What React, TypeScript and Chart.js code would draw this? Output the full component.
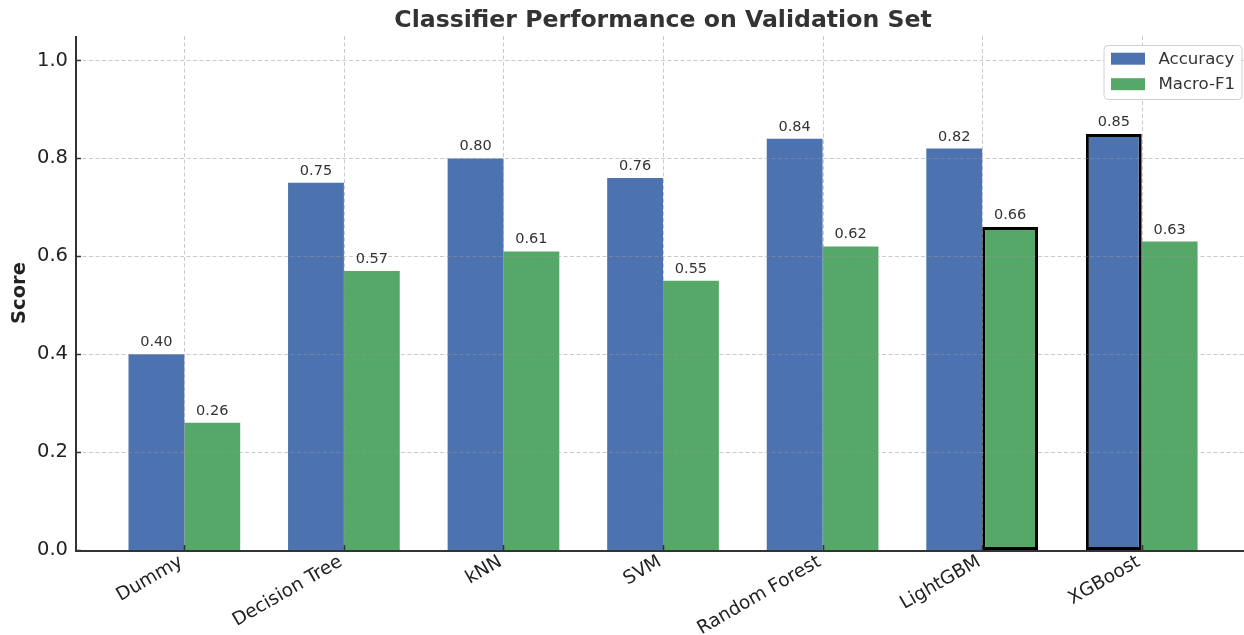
import React, { useEffect, useRef } from "react";
import { Chart, registerables } from "chart.js";

Chart.register(...registerables);

const title = "Classifier Performance on Validation Set";
const yTitle = "Score";
const categories = ["Dummy", "Decision Tree", "kNN", "SVM", "Random Forest", "LightGBM", "XGBoost"];
const seriesNames = ["Accuracy", "Macro-F1"];
const accuracy = [0.4, 0.75, 0.8, 0.76, 0.84, 0.82, 0.85];
const macroF1 = [0.26, 0.57, 0.61, 0.55, 0.62, 0.66, 0.63];
const yTicks = [0, 0.2, 0.4, 0.6, 0.8, 1.0];
const highlightAccuracy = "XGBoost";
const highlightF1 = "LightGBM";

const FONT = "'DejaVu Sans', sans-serif";
const BLUE = "#4C72B0";
const GREEN = "#55A868";

const overlayPlugin = {
  id: "overlay",
  afterDatasetsDraw(chart: any) {
    const { ctx, chartArea: ca, scales } = chart;
    const x = scales.x;
    const y = scales.y;
    ctx.save();

    // grid lines (drawn over bars)
    ctx.strokeStyle = "rgba(150,150,150,0.5)";
    ctx.lineWidth = 1;
    ctx.setLineDash([4, 2.5]);
    yTicks.forEach((v) => {
      const py = Math.round(y.getPixelForValue(v)) + 0.5;
      ctx.beginPath();
      ctx.moveTo(ca.left, py);
      ctx.lineTo(ca.right, py);
      ctx.stroke();
    });
    categories.forEach((_, i) => {
      const px = Math.round(x.getPixelForValue(i)) + 0.5;
      ctx.beginPath();
      ctx.moveTo(px, ca.top);
      ctx.lineTo(px, ca.bottom);
      ctx.stroke();
    });
    ctx.setLineDash([]);

    // spines
    ctx.strokeStyle = "#333";
    ctx.lineWidth = 2;
    ctx.beginPath();
    ctx.moveTo(ca.left, ca.top);
    ctx.lineTo(ca.left, ca.bottom + 1);
    ctx.lineTo(ca.right, ca.bottom + 1);
    ctx.stroke();

    // inward tick marks
    ctx.lineWidth = 1.5;
    yTicks.forEach((v) => {
      const py = Math.round(y.getPixelForValue(v)) + 0.5;
      ctx.beginPath();
      ctx.moveTo(ca.left, py);
      ctx.lineTo(ca.left + 5, py);
      ctx.stroke();
    });
    categories.forEach((_, i) => {
      const px = Math.round(x.getPixelForValue(i)) + 0.5;
      ctx.beginPath();
      ctx.moveTo(px, ca.bottom);
      ctx.lineTo(px, ca.bottom - 5);
      ctx.stroke();
    });

    // value labels
    ctx.fillStyle = "#333";
    ctx.font = `14.5px ${FONT}`;
    ctx.textAlign = "center";
    ctx.textBaseline = "alphabetic";
    const series = [accuracy, macroF1];
    chart.data.datasets.forEach((_: any, di: number) => {
      const meta = chart.getDatasetMeta(di);
      meta.data.forEach((bar: any, i: number) => {
        ctx.fillText(series[di][i].toFixed(2), bar.x, bar.y - 8);
      });
    });

    // title
    ctx.fillStyle = "#333";
    ctx.font = `bold 23.6px ${FONT}`;
    ctx.fillText(title, x.getPixelForValue((categories.length - 1) / 2), 26.7);

    // legend
    const colors = [BLUE, GREEN];
    const bx = ca.right - 140.5;
    const by = ca.top + 9;
    const bw = 138;
    const bh = 54;
    ctx.fillStyle = "rgba(255,255,255,0.85)";
    ctx.strokeStyle = "#d0d0d0";
    ctx.lineWidth = 1;
    ctx.beginPath();
    (ctx as any).roundRect(bx + 0.5, by + 0.5, bw, bh, 4);
    ctx.fill();
    ctx.stroke();
    ctx.font = `16.6px ${FONT}`;
    ctx.textAlign = "left";
    ctx.textBaseline = "middle";
    seriesNames.forEach((name, k) => {
      const cy = by + 13.7 + k * 25.5;
      ctx.fillStyle = colors[k];
      ctx.fillRect(bx + 7.5, cy - 6, 34, 12);
      ctx.fillStyle = "#333";
      ctx.fillText(name, bx + 55, cy + 0.5);
    });

    ctx.restore();
  },
};

export default function App() {
  const ref = useRef<HTMLCanvasElement | null>(null);

  useEffect(() => {
    document.body.style.margin = "0";
    if (!ref.current) return;
    const chart = new Chart(ref.current, {
      type: "bar",
      data: {
        datasets: [
          {
            label: seriesNames[0],
            data: accuracy.map((v, i) => ({ x: i, y: v })),
            backgroundColor: BLUE,
            borderColor: "#000",
            borderWidth: categories.map((c) => (c === highlightAccuracy ? 3 : 0)),
            borderSkipped: false,
            categoryPercentage: 0.7,
            barPercentage: 1.0,
          },
          {
            label: seriesNames[1],
            data: macroF1.map((v, i) => ({ x: i, y: v })),
            backgroundColor: GREEN,
            borderColor: "#000",
            borderWidth: categories.map((c) => (c === highlightF1 ? 3 : 0)),
            borderSkipped: false,
            categoryPercentage: 0.7,
            barPercentage: 1.0,
          },
        ] as any,
      },
      options: {
        animation: false,
        responsive: false,
        maintainAspectRatio: false,
        layout: { padding: { top: 36, right: 0, bottom: 0, left: 0 } },
        plugins: {
          legend: { display: false },
          title: { display: false },
          tooltip: { enabled: false },
        },
        scales: {
          x: {
            type: "linear",
            min: -0.679,
            max: 6.641,
            offset: false,
            afterBuildTicks: (s: any) => {
              s.ticks = categories.map((_, i) => ({ value: i }));
            },
            afterFit: (s: any) => {
              s.height = 85;
            },
            grid: { display: false, drawTicks: false },
            border: { display: false },
            ticks: {
              autoSkip: false,
              minRotation: 30,
              maxRotation: 30,
              padding: 1,
              labelOffset: -3,
              color: "#222",
              font: { family: FONT, size: 18.5 },
              callback: (v: any) => categories[v] ?? "",
            },
          },
          y: {
            type: "linear",
            min: 0,
            max: 1.05,
            afterBuildTicks: (s: any) => {
              s.ticks = yTicks.map((v) => ({ value: v }));
            },
            afterFit: (s: any) => {
              s.width = 76;
            },
            grid: { display: false, drawTicks: false },
            border: { display: false },
            ticks: {
              padding: 8,
              color: "#222",
              font: { family: FONT, size: 19.5 },
              callback: (v: any) => Number(v).toFixed(1),
            },
            title: {
              display: true,
              text: yTitle,
              color: "#222",
              font: { family: FONT, size: 19.5, weight: "bold" },
              padding: { top: 8, bottom: 0 },
            },
          },
        },
      } as any,
      plugins: [overlayPlugin],
    });
    return () => chart.destroy();
  }, []);

  return (
    <div style={{ width: 1244, height: 635 }}>
      <canvas ref={ref} width={1244} height={635} style={{ display: "block" }} />
    </div>
  );
}
